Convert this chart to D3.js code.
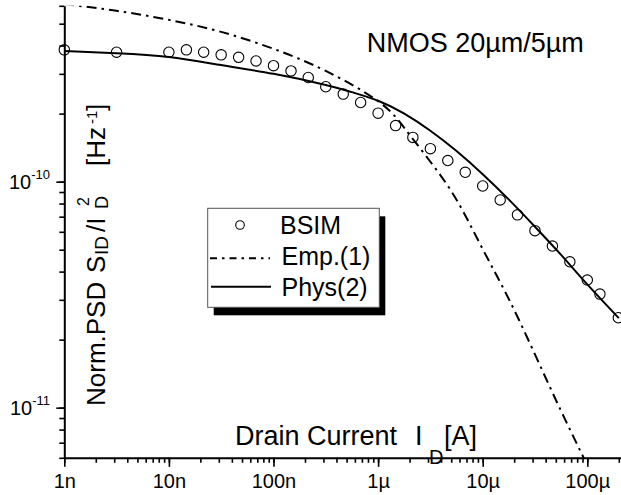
<!DOCTYPE html>
<html><head><meta charset="utf-8">
<script src="https://cdn.jsdelivr.net/npm/d3@7"></script>
<style>
body{margin:0;background:#fff;}
svg{display:block;}
text{font-family:Arial,"Liberation Sans",Helvetica,sans-serif;fill:#000;}
</style>
</head><body>
<svg id="c" width="621" height="495"></svg>
<script>
// ---------------- data ----------------
const bsimCurrent = [1e-9, 3.16e-9, 1e-8, 1.47e-8, 2.15e-8, 3.16e-8, 4.64e-8, 6.81e-8,
  1e-7, 1.47e-7, 2.15e-7, 3.16e-7, 4.64e-7, 6.81e-7, 1e-6, 1.47e-6, 2.15e-6, 3.16e-6,
  4.64e-6, 6.81e-6, 1e-5, 1.47e-5, 2.15e-5, 3.16e-5, 4.64e-5, 6.81e-5, 1e-4, 1.32e-4, 1.98e-4];
const bsimPsd = [3.83e-10, 3.74e-10, 3.74e-10, 3.83e-10, 3.74e-10, 3.64e-10, 3.55e-10, 3.42e-10,
  3.26e-10, 3.09e-10, 2.89e-10, 2.63e-10, 2.44e-10, 2.24e-10, 2.01e-10, 1.77e-10, 1.57e-10, 1.40e-10,
  1.24e-10, 1.10e-10, 9.57e-11, 8.30e-11, 7.13e-11, 6.07e-11, 5.19e-11, 4.42e-11, 3.67e-11, 3.18e-11, 2.50e-11];

const empCurrent = [1e-9, 3.16e-9, 1e-8, 3.16e-8, 1e-7, 3.16e-7, 1e-6, 1.78e-6, 3.16e-6,
  5.62e-6, 1e-5, 1.78e-5, 3.16e-5, 5.62e-5, 1e-4];
const empPsd = [6.1e-10, 5.7e-10, 5.2e-10, 4.6e-10, 3.87e-10, 3.09e-10, 2.27e-10, 1.73e-10, 1.225e-10,
  8.32e-11, 5.03e-11, 3.02e-11, 1.72e-11, 9.66e-12, 5.56e-12];

const physCurrent = [1e-9, 3.16e-9, 1e-8, 3.16e-8, 1e-7, 3.16e-7, 5.62e-7, 1e-6, 1.78e-6, 3.16e-6,
  5.62e-6, 1e-5, 1.78e-5, 3.16e-5, 5.62e-5, 1e-4, 2e-4];
const physPsd = [3.79e-10, 3.70e-10, 3.56e-10, 3.28e-10, 3.00e-10, 2.68e-10, 2.49e-10, 2.28e-10, 2.00e-10, 1.68e-10,
  1.366e-10, 1.079e-10, 8.33e-11, 6.32e-11, 4.74e-11, 3.51e-11, 2.49e-11];

const xTickValues = [1e-9, 1e-8, 1e-7, 1e-6, 1e-5, 1e-4];
const xTickLabels = ["1n", "10n", "100n", "1µ", "10µ", "100µ"];
const yTickValues = [1e-11, 1e-10];
const yTickBase = ["10", "10"];
const yTickExp = ["-11", "-10"];
const legendLabels = ["BSIM", "Emp.(1)", "Phys(2)"];
const annotation = "NMOS 20µm/5µm";

// ---------------- scales ----------------
const svg = d3.select("#c");
const X0 = 64.3, XDEC = 104.6, XEND = 632;
const x = d3.scaleLog()
  .domain([1e-9, Math.pow(10, -9 + (XEND - X0) / XDEC)])
  .range([X0, XEND]);
const y = d3.scaleLog().domain([6e-12, 6e-10]).range([457.8, 5.8]);

svg.append("defs").append("clipPath").attr("id", "plotclip")
  .append("rect").attr("x", X0).attr("y", y.range()[1])
  .attr("width", XEND - X0).attr("height", y.range()[0] - y.range()[1]);

// ---------------- axes ----------------
const xMinor = [];
for (let e = -9; e <= -4; e++) for (let k = 1; k <= 9; k++) {
  const v = k * Math.pow(10, e);
  if (v <= x.domain()[1]) xMinor.push(v);
}
const yMinor = [];
for (let e = -12; e <= -10; e++) for (let k = 1; k <= 9; k++) {
  const v = k * Math.pow(10, e);
  if (v >= 5.99e-12 && v <= 6.01e-10) yMinor.push(v);
}

const gx = svg.append("g").attr("transform", `translate(0,${y.range()[0]})`);
gx.call(d3.axisBottom(x).tickValues(xMinor).tickSize(5).tickSizeOuter(0).tickFormat(""));
const gxMaj = svg.append("g").attr("transform", `translate(0,${y.range()[0]})`);
gxMaj.call(d3.axisBottom(x).tickValues(xTickValues).tickSize(9).tickSizeOuter(0).tickPadding(7)
  .tickFormat((d, i) => xTickLabels[i]));
gxMaj.select(".domain").remove();

const gy = svg.append("g").attr("transform", `translate(${X0},0)`);
gy.call(d3.axisLeft(y).tickValues(yMinor).tickSize(5).tickSizeOuter(0).tickFormat(""));
const gyMaj = svg.append("g").attr("transform", `translate(${X0},0)`);
gyMaj.call(d3.axisLeft(y).tickValues(yTickValues).tickSize(8).tickSizeOuter(0).tickFormat(""));
gyMaj.select(".domain").remove();

svg.selectAll(".domain").attr("stroke", "#000").attr("stroke-width", 2);
svg.selectAll(".tick line").attr("stroke", "#000").attr("stroke-width", 1.6);
gxMaj.selectAll(".tick text").attr("font-size", 20)
  .attr("font-family", 'Arial,"Liberation Sans",sans-serif').attr("fill", "#000");

const ylab = svg.append("g");
yTickValues.forEach((v, i) => {
  const t = ylab.append("text").attr("x", 50).attr("y", y(v) + 7.5).attr("text-anchor", "end");
  t.append("tspan").attr("font-size", 20).text(yTickBase[i]);
  t.append("tspan").attr("font-size", 13).attr("dy", -10).text(yTickExp[i]);
});

// ---------------- series ----------------
const plot = svg.append("g").attr("clip-path", "url(#plotclip)");
const line = d3.line().x(d => x(d[0])).y(d => y(d[1])).curve(d3.curveNatural);

plot.append("path").datum(d3.zip(empCurrent, empPsd))
  .attr("d", line).attr("fill", "none").attr("stroke", "#000")
  .attr("stroke-width", 2).attr("stroke-dasharray", "10,5,2.5,5");

plot.append("path").datum(d3.zip(physCurrent, physPsd))
  .attr("d", line).attr("fill", "none").attr("stroke", "#000").attr("stroke-width", 2);

svg.append("g").selectAll("circle").data(d3.zip(bsimCurrent, bsimPsd)).join("circle")
  .attr("cx", d => x(d[0])).attr("cy", d => y(d[1])).attr("r", 5.2)
  .attr("fill", "none").attr("stroke", "#000").attr("stroke-width", 1.1);

// ---------------- annotation ----------------
svg.append("text").attr("x", 366.7).attr("y", 51.7).attr("font-size", 27).text(annotation);

// x title
const xt = svg.append("g");
xt.append("text").attr("x", 235).attr("y", 445).attr("font-size", 27).text("Drain Current");
xt.append("text").attr("x", 415).attr("y", 445).attr("font-size", 27).text("I");
xt.append("text").attr("x", 429).attr("y", 464).attr("font-size", 20).text("D");
xt.append("text").attr("x", 444).attr("y", 445).attr("font-size", 27).text("[A]");

// y title (rotated)
const yt = svg.append("g").attr("transform", "translate(105,0) rotate(-90)");
yt.append("text").attr("x", -406).attr("y", 0).attr("font-size", 26).text("Norm.PSD");
yt.append("text").attr("x", -273).attr("y", 0).attr("font-size", 26).text("S");
yt.append("text").attr("x", -255).attr("y", 3).attr("font-size", 19).text("ID");
yt.append("text").attr("x", -232).attr("y", 0).attr("font-size", 26).text("/I");
yt.append("text").attr("x", -209).attr("y", 3).attr("font-size", 18).text("D");
yt.append("text").attr("x", -206).attr("y", -16).attr("font-size", 16).text("2");
yt.append("text").attr("x", -166).attr("y", 0).attr("font-size", 26).text("[Hz");
yt.append("text").attr("x", -124).attr("y", -8).attr("font-size", 15).text("-1");
yt.append("text").attr("x", -111).attr("y", 0).attr("font-size", 26).text("]");

// ---------------- legend ----------------
const lg = svg.append("g");
const LX = 207.7, LY = 208.3, LW = 171.6, LH = 99;
lg.append("rect").attr("x", LX + 6).attr("y", LY + 8).attr("width", LW).attr("height", LH).attr("fill", "#000");
lg.append("rect").attr("x", LX).attr("y", LY).attr("width", LW).attr("height", LH)
  .attr("fill", "#fff").attr("stroke", "#555").attr("stroke-width", 1);
lg.append("circle").attr("cx", 240).attr("cy", 225).attr("r", 4.3)
  .attr("fill", "none").attr("stroke", "#000").attr("stroke-width", 1.1);
lg.append("line").attr("x1", 210).attr("x2", 270).attr("y1", 258.3).attr("y2", 258.3)
  .attr("stroke", "#000").attr("stroke-width", 2).attr("stroke-dasharray", "7,5,2.5,5");
lg.append("line").attr("x1", 211).attr("x2", 271).attr("y1", 286.7).attr("y2", 286.7)
  .attr("stroke", "#000").attr("stroke-width", 2);
const lgY = [234, 265, 296];
legendLabels.forEach((s, i) => {
  lg.append("text").attr("x", i === 0 ? 280 : 281.5).attr("y", lgY[i]).attr("font-size", 25).text(s);
});
</script>
</body></html>
